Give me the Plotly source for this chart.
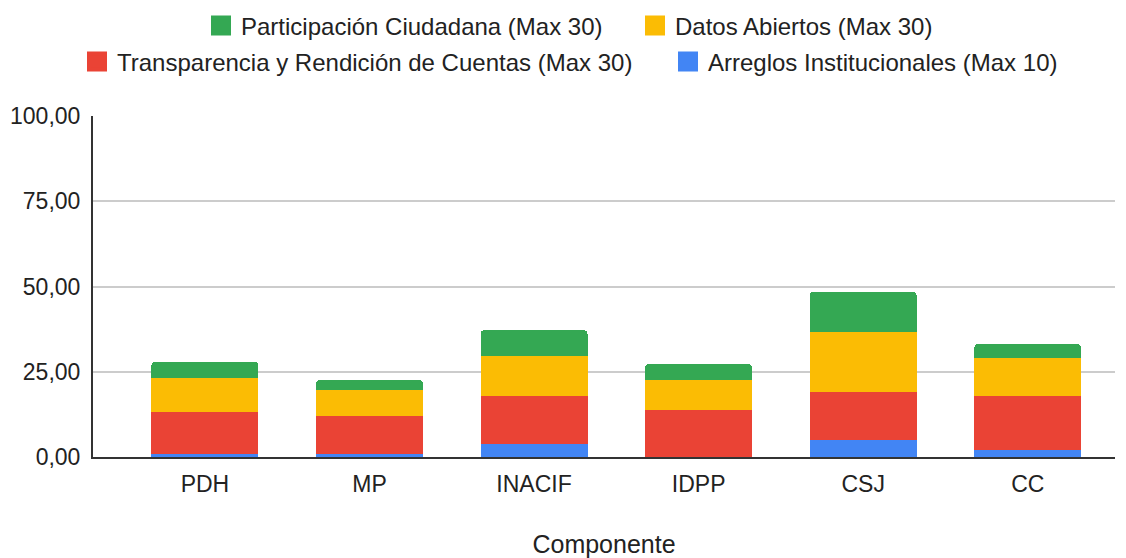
import plotly.graph_objects as go

categories = ["PDH", "MP", "INACIF", "IDPP", "CSJ", "CC"]
arreglos = [0.9, 0.9, 3.8, 0.0, 5.0, 2.1]
transparencia = [12.3, 11.1, 14.1, 13.8, 14.1, 15.8]
datos = [10.0, 7.6, 11.7, 8.8, 17.6, 11.1]
participacion = [4.7, 2.9, 7.6, 4.7, 11.7, 4.1]

series = [
    ("Arreglos Institucionales (Max 10)", arreglos, "#4285F4", "legend4"),
    ("Transparencia y Rendición de Cuentas (Max 30)", transparencia, "#EA4335", "legend3"),
    ("Datos Abiertos (Max 30)", datos, "#FBBC04", "legend2"),
    ("Participación Ciudadana (Max 30)", participacion, "#34A853", "legend"),
]

fig = go.Figure()
for name, vals, color, leg in series:
    fig.add_trace(go.Bar(x=categories, y=vals, name=name, marker=dict(color=color, line=dict(width=0)),
                         showlegend=False))
    # legend-only entry with a larger square swatch
    fig.add_trace(go.Scatter(x=[None], y=[None], name=name, mode="markers", legend=leg,
                             marker=dict(symbol="square", size=16, color=color,
                                         line=dict(color=color, width=4))))

font = "Arial, 'Liberation Sans', sans-serif"
txt = "#222222"
fs = 23
W, H = 1126, 558


def leg(px_left, py_center):
    return dict(orientation="h", xref="container", x=px_left / W, xanchor="left",
                yref="container", y=1 - py_center / H, yanchor="middle",
                font=dict(size=24, color=txt), itemwidth=30, bgcolor="rgba(0,0,0,0)")


fig.update_layout(
    barmode="stack",
    barcornerradius=4,
    bargap=0.35,
    width=W, height=H,
    margin=dict(l=93, r=11, t=116, b=101, autoexpand=False),
    paper_bgcolor="white", plot_bgcolor="white",
    separators=",.",
    font=dict(family=font, size=fs, color=txt),
    legend=leg(221 - 20, 26),
    legend2=leg(655 - 20, 26),
    legend3=leg(97 - 20, 62),
    legend4=leg(688 - 20, 62),
    showlegend=True,
)
fig.update_yaxes(range=[0, 100], tickvals=[0, 25, 50, 75, 100], tickformat=".2f",
                 showgrid=True, gridcolor="#cccccc", gridwidth=1.5,
                 showline=True, linecolor="#333333", linewidth=2,
                 zeroline=False, ticks="", ticklabelstandoff=6, automargin=False,
                 tickfont=dict(size=fs, color=txt))
fig.update_xaxes(range=[-0.68, 5.53], showline=True, linecolor="#333333", linewidth=2, ticks="",
                 ticklabelstandoff=5, tickfont=dict(size=fs, color=txt), automargin=False,
                 title=dict(text="Componente", font=dict(size=25, color=txt), standoff=43))

fig.write_html("out.html", config={"displayModeBar": False},
               post_script="document.body.style.margin='0';")
